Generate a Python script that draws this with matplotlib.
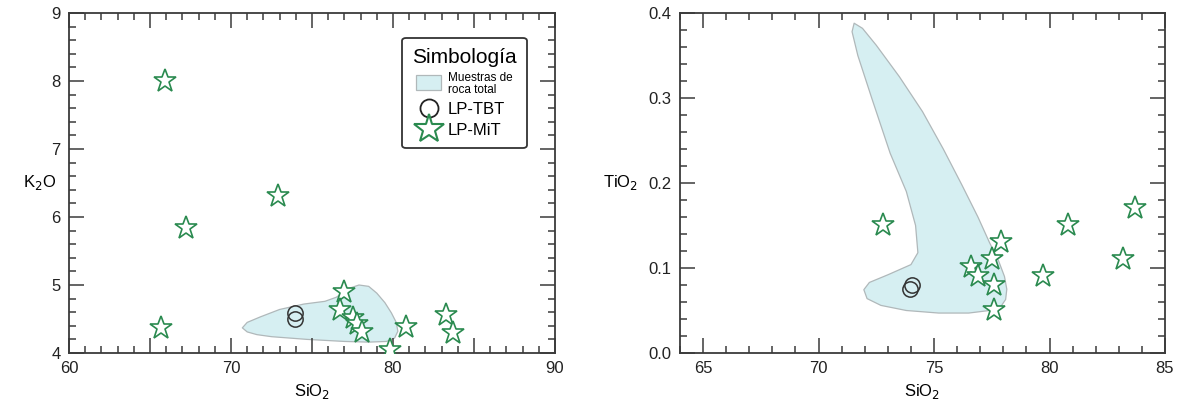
import matplotlib
matplotlib.use("Agg")
import matplotlib.pyplot as plt
from matplotlib.patches import Polygon, Patch
from matplotlib.lines import Line2D
from matplotlib.ticker import MultipleLocator, FuncFormatter

plt.rcParams['font.family'] = ['Liberation Sans', 'DejaVu Sans']

# --- data ---
# LP-MiT stars, left diagram (SiO2 vs K2O)
mit_sio2_k = [65.9, 67.2, 72.9, 65.7, 77.0, 76.7, 77.5, 77.8, 78.1, 80.8, 79.8, 83.3, 83.7]
mit_k2o = [8.00, 5.84, 6.31, 4.37, 4.90, 4.63, 4.51, 4.43, 4.31, 4.38, 4.04, 4.56, 4.29]
# LP-TBT circles, left diagram
tbt_sio2_k = [73.95, 73.95]
tbt_k2o = [4.59, 4.50]
# whole-rock field, left diagram
field_k_x = [70.7, 71.0, 71.8, 73.0, 74.5, 75.8, 76.5, 77.0, 77.4, 77.9, 78.5, 79.0, 79.5,
             79.9, 80.2, 80.3, 80.1, 79.6, 78.5, 77.0, 74.7, 72.5, 71.6, 71.0]
field_k_y = [4.37, 4.45, 4.53, 4.64, 4.72, 4.76, 4.82, 4.90, 4.96, 5.00, 4.98, 4.88, 4.74,
             4.59, 4.45, 4.32, 4.22, 4.17, 4.16, 4.17, 4.20, 4.24, 4.27, 4.31]

# LP-MiT stars, right diagram (SiO2 vs TiO2)
mit_sio2_t = [72.8, 77.9, 77.5, 76.6, 76.9, 77.6, 77.6, 79.7, 80.8, 83.2, 83.7]
mit_tio2 = [0.151, 0.131, 0.111, 0.101, 0.091, 0.080, 0.051, 0.091, 0.151, 0.111, 0.171]
# LP-TBT circles, right diagram
tbt_sio2_t = [74.05, 73.95]
tbt_tio2 = [0.080, 0.075]
# whole-rock field, right diagram
field_t_x = [71.54, 71.9, 72.5, 73.5, 74.5, 75.4, 76.2, 76.9, 77.4, 77.8, 78.05, 78.15, 78.1,
             77.9, 77.4, 76.5, 75.2, 73.8, 72.7, 72.1, 71.96, 72.2, 73.0, 74.0, 74.3,
             74.2, 73.8, 73.1, 72.3, 71.7, 71.45]
field_t_y = [0.388, 0.382, 0.362, 0.325, 0.284, 0.240, 0.198, 0.160, 0.130, 0.108, 0.090, 0.075, 0.063,
             0.055, 0.050, 0.047, 0.047, 0.050, 0.056, 0.064, 0.0745, 0.083, 0.092, 0.104, 0.118,
             0.150, 0.190, 0.235, 0.300, 0.350, 0.378]

star_green = '#2a8a4f'
field_fill = '#d6eff2'
field_edge = '#b0b8ba'
axis_col = '#3a3a3a'

fig = plt.figure(figsize=(11.8, 4.08), dpi=100)
ax1 = fig.add_axes([69 / 1180, 55 / 408, 486 / 1180, 340 / 408])
ax2 = fig.add_axes([680 / 1180, 55 / 408, 485 / 1180, 340 / 408])


def style_axes(ax):
    for sp in ax.spines.values():
        sp.set_color(axis_col)
        sp.set_linewidth(1.3)
    ax.tick_params(which='both', direction='in', top=True, right=True,
                   color=axis_col, width=1.1, labelsize=12, labelcolor='#222222', pad=6)
    ax.tick_params(which='major', length=11)
    ax.tick_params(which='minor', length=5)


def draw_points(ax, fx, fy, sx, sy, cx, cy):
    ax.add_patch(Polygon(list(zip(fx, fy)), closed=True, facecolor=field_fill,
                         edgecolor=field_edge, linewidth=0.9, joinstyle='round', zorder=1))
    ax.plot(cx, cy, 'o', ms=11, mfc='none', mec='#333333', mew=1.1, ls='none', zorder=3)
    ax.plot(sx, sy, '*', ms=17, mfc='white', mec=star_green, mew=1.2, ls='none', zorder=4)


# left panel
draw_points(ax1, field_k_x, field_k_y, mit_sio2_k, mit_k2o, tbt_sio2_k, tbt_k2o)
ax1.set_xlim(60, 90)
ax1.set_ylim(4, 9)
ax1.xaxis.set_major_locator(MultipleLocator(5))
ax1.xaxis.set_minor_locator(MultipleLocator(1))
ax1.xaxis.set_major_formatter(FuncFormatter(lambda v, p: '%d' % v if v % 10 == 0 else ''))
ax1.yaxis.set_major_locator(MultipleLocator(1))
ax1.yaxis.set_minor_locator(MultipleLocator(0.2))
style_axes(ax1)
ax1.set_xlabel('SiO$_2$', fontsize=12, labelpad=4)
ax1.set_ylabel('K$_2$O', fontsize=12, rotation=0, ha='center', va='center')
ax1.yaxis.set_label_coords(-0.06, 0.5)

# legend
handles = [
    Patch(facecolor=field_fill, edgecolor=field_edge, linewidth=0.9),
    Line2D([], [], marker='o', ms=13, mfc='none', mec='#222222', mew=1.3, ls='none'),
    Line2D([], [], marker='*', ms=22, mfc='white', mec=star_green, mew=1.5, ls='none'),
]
labels = ['Muestras de\nroca total', 'LP-TBT', 'LP-MiT']
leg = ax1.legend(handles, labels, title='Simbología', loc='upper right',
                 bbox_to_anchor=(0.942, 0.926), fontsize=12, title_fontsize=15,
                 frameon=True, fancybox=True, edgecolor='#333333',
                 handlelength=1.5, handleheight=1.0, handletextpad=0.4, labelspacing=0.3,
                 borderpad=0.6, borderaxespad=0.0, framealpha=1)
leg.get_frame().set_linewidth(1.3)
leg.get_texts()[0].set_fontsize(8.5)
leg.get_texts()[0].set_linespacing(1.0)

# right panel
draw_points(ax2, field_t_x, field_t_y, mit_sio2_t, mit_tio2, tbt_sio2_t, tbt_tio2)
ax2.set_xlim(64, 85)
ax2.set_ylim(0, 0.4)
ax2.xaxis.set_major_locator(MultipleLocator(5))
ax2.xaxis.set_minor_locator(MultipleLocator(1))
ax2.yaxis.set_major_locator(MultipleLocator(0.1))
ax2.yaxis.set_minor_locator(MultipleLocator(0.02))
ax2.yaxis.set_major_formatter(FuncFormatter(lambda v, p: '%.1f' % v))
style_axes(ax2)
ax2.set_xlabel('SiO$_2$', fontsize=12, labelpad=4)
ax2.set_ylabel('TiO$_2$', fontsize=12, rotation=0, ha='center', va='center')
ax2.yaxis.set_label_coords(-0.122, 0.5)

fig.savefig('out.png', dpi=100, facecolor='white')
